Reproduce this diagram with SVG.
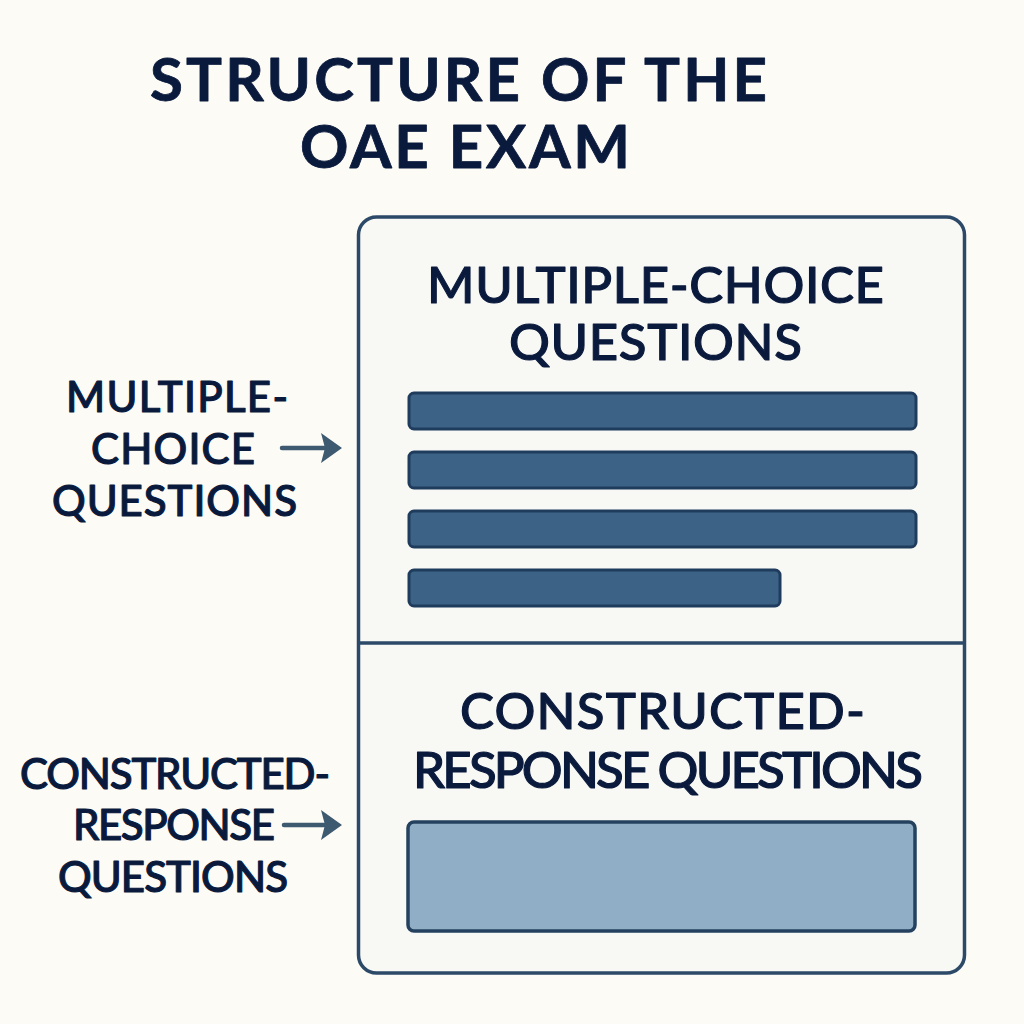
<svg xmlns="http://www.w3.org/2000/svg" width="1024" height="1024" viewBox="0 0 1024 1024">
<defs>
<marker id="arr" markerUnits="userSpaceOnUse" markerWidth="24" markerHeight="34" refX="5" refY="16" orient="auto"><path d="M0 1 L21 16 L0 31 L4 16 Z" fill="#3d5a70"/></marker>
</defs>
<style>
text{font-family:"Lato","Noto Sans","Liberation Sans",sans-serif;fill:#0a1a3c;stroke:#0a1a3c;stroke-width:1.100;stroke-linejoin:round;text-anchor:middle;font-weight:500}
.t{font-size:60px;font-weight:700;stroke-width:.8px}
.h{font-size:51px}
.s{font-size:42px}
.bar{fill:#3c6286;stroke:#1f3c5c;stroke-width:3}
</style>
<rect width="1024" height="1024" fill="#fdfbf6"/>
<g id="title"><text class="t" x="458.500" y="101" textLength="617">STRUCTURE OF THE</text><text class="t" x="465" y="168" textLength="330">OAE EXAM</text></g>
<g id="panel"><rect x="358.500" y="217" width="606" height="756" rx="18" fill="#f8f8f5" stroke="#2c4a68" stroke-width="3.500"/><line x1="359" y1="643" x2="964" y2="643" stroke="#2c4a68" stroke-width="3.500"/></g>
<g id="mc-section"><text class="h" x="655.500" y="303" textLength="457">MULTIPLE-CHOICE</text><text class="h" x="655.500" y="360" textLength="293">QUESTIONS</text>
<rect class="bar" x="409" y="393" width="507" height="36" rx="5"/><rect class="bar" x="409" y="452" width="507" height="36" rx="5"/><rect class="bar" x="409" y="511" width="507" height="36" rx="5"/><rect class="bar" x="409" y="570" width="371" height="36" rx="5"/></g>
<g id="cr-section"><text class="h" x="662.500" y="729" textLength="405">CONSTRUCTED-</text><text class="h" x="668" y="788" textLength="510">RESPONSE QUESTIONS</text>
<rect x="408" y="822" width="507" height="109" rx="6" fill="#90afc6" stroke="#24425f" stroke-width="3.500"/></g>
<g id="mc-label"><text class="s" x="177" y="412" textLength="222">MULTIPLE-</text><text class="s" x="173" y="464" textLength="164">CHOICE</text><text class="s" x="174.500" y="516" textLength="245">QUESTIONS</text></g>
<g id="cr-label"><text class="s" x="175" y="789" textLength="310">CONSTRUCTED-</text><text class="s" x="174" y="840" textLength="202">RESPONSE</text><text class="s" x="173" y="892" textLength="230">QUESTIONS</text></g>
<g id="connectors" stroke="#3d5a70" stroke-width="4.500" fill="none" stroke-linecap="round"><line x1="282" y1="448" x2="326" y2="448" marker-end="url(#arr)"/><line x1="284" y1="825" x2="326" y2="825" marker-end="url(#arr)"/></g>
</svg>
